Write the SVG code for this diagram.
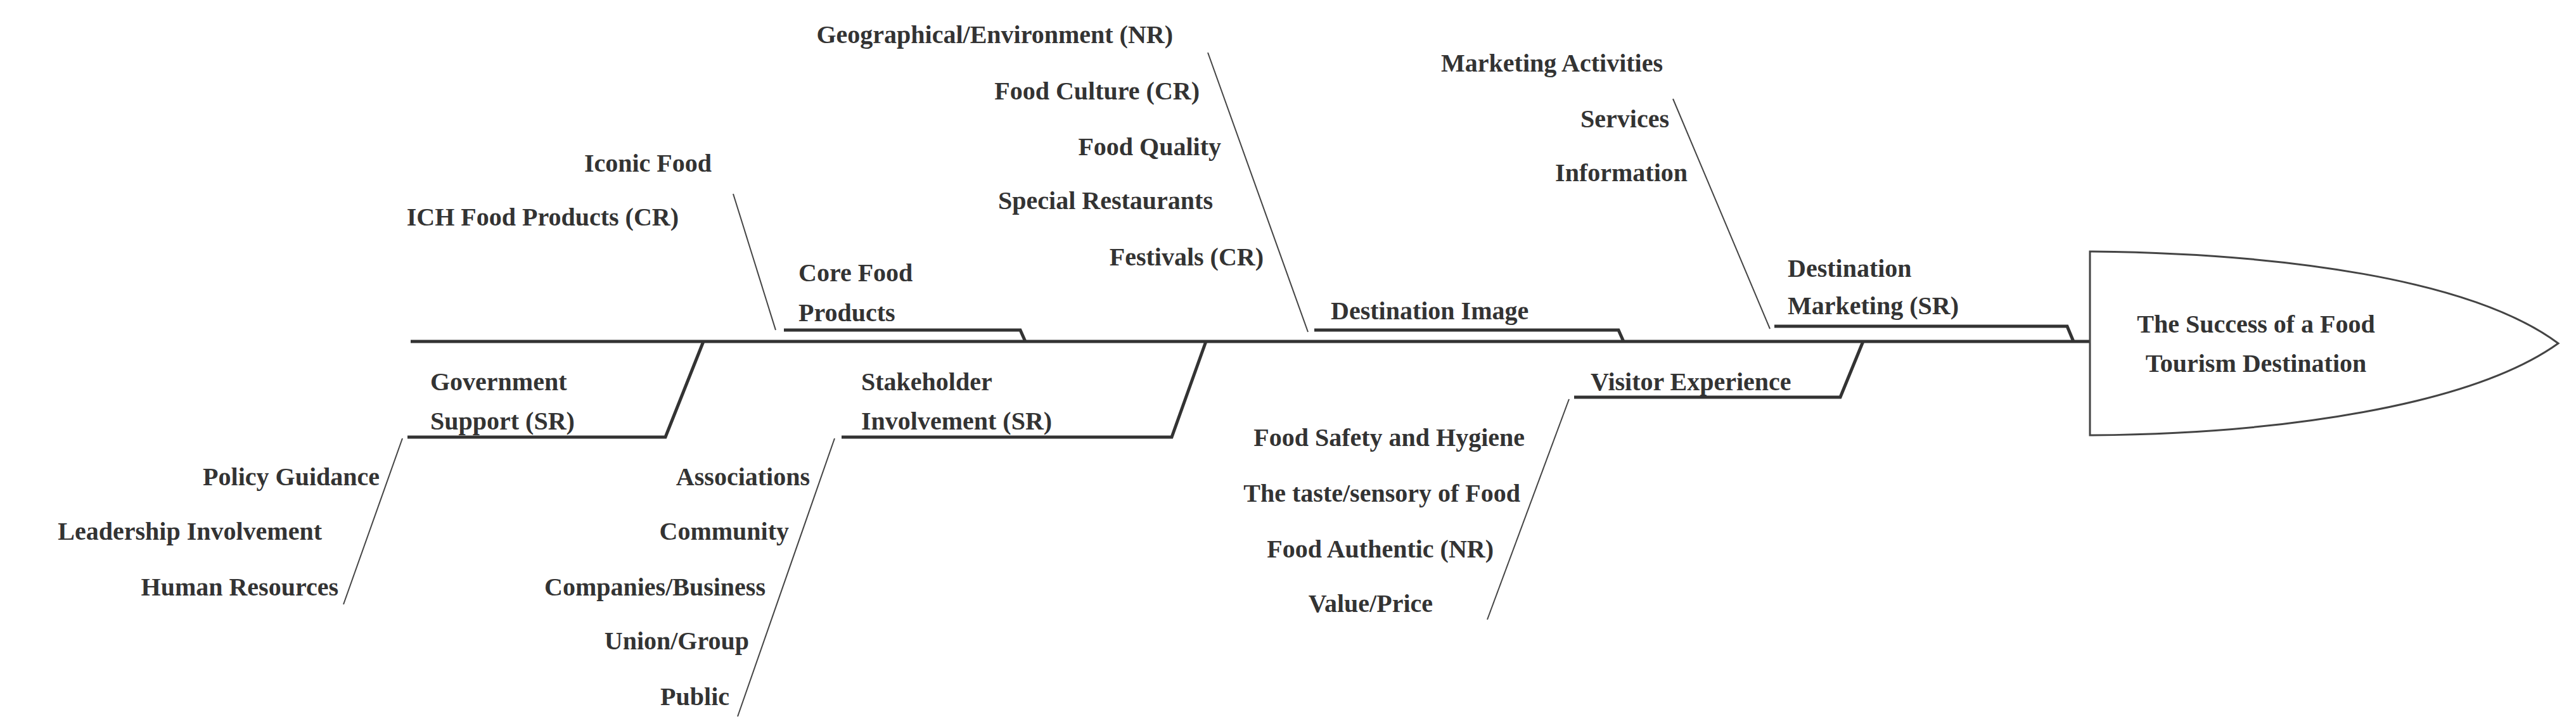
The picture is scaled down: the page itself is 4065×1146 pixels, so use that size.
<svg xmlns="http://www.w3.org/2000/svg" width="4065" height="1146" viewBox="0 0 4065 1146">
<style>
text{font-family:"Liberation Serif","Times New Roman",serif;font-weight:bold;font-size:40px;fill:#333;dominant-baseline:central}
.r{text-anchor:end}
.m{text-anchor:middle}
.thin{stroke:#444;stroke-width:2;fill:none}
.thick{stroke:#333;stroke-width:5;fill:none}
</style>
<rect width="4065" height="1146" fill="#fff"/>
<g id="connectors">
<line class="thick" x1="648" y1="539" x2="3298" y2="539"/>
<polyline class="thin" points="1157,306 1224,521"/>
<polyline class="thick" points="1237,521 1610,521 1618,539"/>
<polyline class="thin" points="1906,83 2064,524"/>
<polyline class="thick" points="2074,521 2554,521 2562,539"/>
<polyline class="thin" points="2640,156 2793,519"/>
<polyline class="thick" points="2800,515 3262,515 3272,539"/>
<polyline class="thick" points="1110,539 1050,690 643,690"/>
<polyline class="thin" points="635,692 542,954"/>
<polyline class="thick" points="1903,539 1849,690 1328,690"/>
<polyline class="thin" points="1317,692 1164,1131"/>
<polyline class="thick" points="2940,539 2904,627 2484,627"/>
<polyline class="thin" points="2476,630 2347,978"/>
</g>
<g id="head">
<path d="M3298,397 C3600,400 3900,440 4037,542 C3900,640 3600,685 3298,687 Z" fill="#fff" stroke="#444" stroke-width="3"/>
<text class="m" x="3560" y="511">The Success of a Food</text>
<text class="m" x="3560" y="573">Tourism Destination</text>
</g>
<g id="core-food">
<text x="1260" y="430">Core Food</text>
<text x="1260" y="493">Products</text>
<text class="r" x="1123" y="257">Iconic Food</text>
<text class="r" x="1071" y="342">ICH Food Products (CR)</text>
</g>
<g id="destination-image">
<text x="2100" y="490">Destination Image</text>
<text class="r" x="1851" y="54">Geographical/Environment (NR)</text>
<text class="r" x="1893" y="143">Food Culture (CR)</text>
<text class="r" x="1927" y="231">Food Quality</text>
<text class="r" x="1914" y="316">Special Restaurants</text>
<text class="r" x="1994" y="405">Festivals (CR)</text>
</g>
<g id="destination-marketing">
<text x="2821" y="423">Destination</text>
<text x="2821" y="482">Marketing (SR)</text>
<text class="r" x="2624" y="99">Marketing Activities</text>
<text class="r" x="2634" y="187">Services</text>
<text class="r" x="2663" y="272">Information</text>
</g>
<g id="government-support">
<text x="679" y="602">Government</text>
<text x="679" y="664">Support (SR)</text>
<text class="r" x="599" y="752">Policy Guidance</text>
<text class="r" x="508" y="838">Leadership Involvement</text>
<text class="r" x="534" y="926">Human Resources</text>
</g>
<g id="stakeholder-involvement">
<text x="1359" y="602">Stakeholder</text>
<text x="1359" y="664">Involvement (SR)</text>
<text class="r" x="1278" y="752">Associations</text>
<text class="r" x="1245" y="838">Community</text>
<text class="r" x="1208" y="926">Companies/Business</text>
<text class="r" x="1182" y="1011">Union/Group</text>
<text class="r" x="1151" y="1099">Public</text>
</g>
<g id="visitor-experience">
<text x="2510" y="602">Visitor Experience</text>
<text class="r" x="2406" y="690">Food Safety and Hygiene</text>
<text class="r" x="2399" y="778">The taste/sensory of Food</text>
<text class="r" x="2357" y="866">Food Authentic (NR)</text>
<text class="r" x="2261" y="952">Value/Price</text>
</g>
</svg>
